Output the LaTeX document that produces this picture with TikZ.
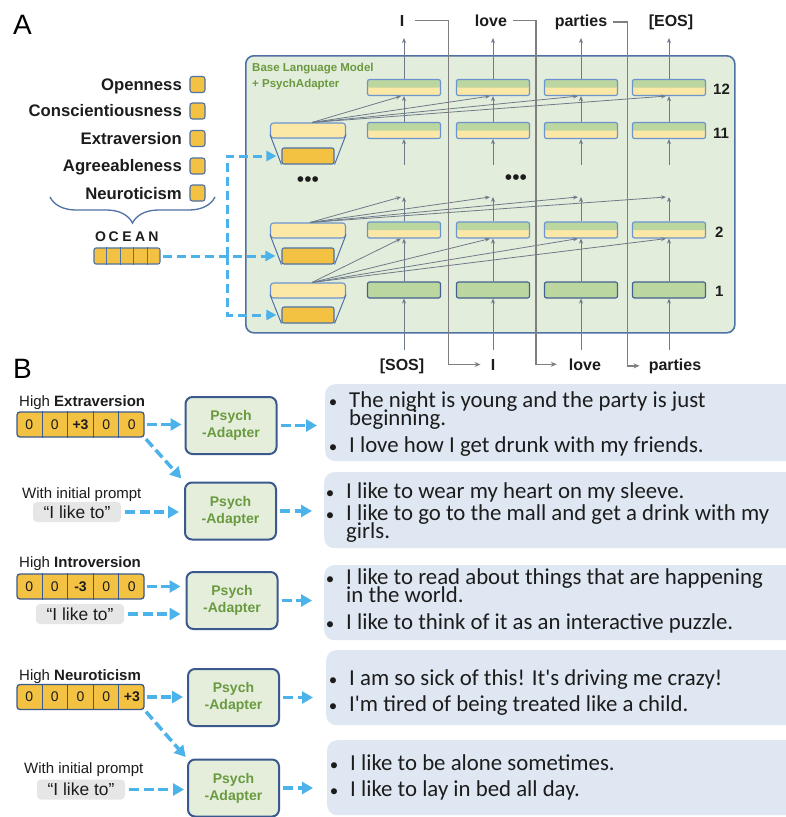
\documentclass[tikz,border=0pt]{standalone}
\usepackage{fontspec}
\setmainfont{Liberation Sans}
\newfontfamily\calfont{Carlito}
\usetikzlibrary{arrows.meta,decorations.pathreplacing,calc}
\definecolor{panelfill}{HTML}{E3EDDB}
\definecolor{panelline}{HTML}{4E71A6}
\definecolor{lgreen}{HTML}{BCD6A0}
\definecolor{lyellow}{HTML}{FBE7A6}
\definecolor{lboxline}{HTML}{6A93CF}
\definecolor{ldark}{HTML}{42618F}
\definecolor{orng}{HTML}{F4C243}
\definecolor{arrgray}{HTML}{6D7A8A}
\definecolor{routegray}{HTML}{7F7F7F}
\definecolor{bluedash}{HTML}{4CB2EA}
\definecolor{psyfill}{HTML}{E4EEDB}
\definecolor{psyline}{HTML}{3A5A8E}
\definecolor{psytext}{HTML}{6A9A40}
\definecolor{txtbox}{HTML}{DFE8F2}
\definecolor{quotebox}{HTML}{E6E6E6}
\definecolor{txtcol}{HTML}{1C1C1C}
\newcommand\bul{\llap{\makebox[32pt][c]{\fontsize{17}{17}\selectfont •}}}
\newcommand\bvector[7]{%
  \node[bvec] (#1) at (80.5,#2) {};
  \foreach \i in {1,...,4}
    \draw[psyline, line width=1pt] ($(#1.north west)!\i/5!(#1.north east)$) -- ($(#1.south west)!\i/5!(#1.south east)$);
  \node[digit] (#1d1) at ($(#1.west)!0.1!(#1.east)$) {#3};
  \node[digit] (#1d2) at ($(#1.west)!0.3!(#1.east)$) {#4};
  \node[digit] (#1d3) at ($(#1.west)!0.5!(#1.east)$) {#5};
  \node[digit] (#1d4) at ($(#1.west)!0.7!(#1.east)$) {#6};
  \node[digit] (#1d5) at ($(#1.west)!0.9!(#1.east)$) {#7};
}
\begin{document}
\begin{tikzpicture}[x=1pt,y=-1pt,
  panel/.style={draw=panelline, line width=1.6pt, fill=panelfill, rounded corners=8pt, inner sep=0pt, anchor=north west},
  layerbox/.style={draw=lboxline, line width=1.2pt, rounded corners=2pt, minimum width=73pt, minimum height=16pt, inner sep=0pt, fill=lyellow,
    path picture={\fill[lgreen] (path picture bounding box.north west) rectangle (path picture bounding box.east);}},
  layerone/.style={draw=ldark, line width=1.2pt, rounded corners=2pt, minimum width=73pt, minimum height=16pt, inner sep=0pt, fill=lgreen},
  adup/.style={draw=lboxline, line width=1.1pt, fill=lyellow, rounded corners=3pt, minimum width=75pt, minimum height=15pt, inner sep=0pt},
  adlo/.style={draw=panelline, line width=1.1pt, fill=orng, rounded corners=2pt, minimum width=52pt, minimum height=16pt, inner sep=0pt},
  trap/.style={draw=panelline, line width=1pt},
  garrow/.style={draw=arrgray, line width=0.8pt, -{Stealth[length=5pt,width=4pt]}},
  route/.style={draw=routegray, line width=1.5pt, -{Stealth[length=6pt,width=5pt]}},
  bdash/.style={draw=bluedash, line width=3pt, dash pattern=on 9pt off 5pt, -{Triangle[length=10pt,width=10pt]}},
  bdashb/.style={draw=bluedash, line width=3.5pt, dash pattern=on 10pt off 4.5pt, -{Triangle[length=11pt,width=12pt]}},
  trait/.style={font=\bfseries\fontsize{16.7}{18}\selectfont, text=txtcol, inner sep=0pt, anchor=base east},
  sq/.style={draw=panelline, line width=1.1pt, fill=orng, rounded corners=2.5pt, minimum width=15pt, minimum height=16pt, inner sep=0pt},
  tok/.style={font=\bfseries\fontsize{16}{18}\selectfont, text=txtcol, inner sep=0pt, anchor=base},
  lnum/.style={font=\bfseries\fontsize{15}{18}\selectfont, text=txtcol, inner sep=0pt, anchor=base west},
  blm/.style={font=\bfseries\fontsize{11.5}{13}\selectfont, text=psytext, inner sep=0pt, anchor=base west},
  dots/.style={font=\fontsize{21}{22}\selectfont, text=txtcol, inner sep=0pt},
  oletter/.style={font=\bfseries\fontsize{14}{16}\selectfont, text=txtcol, inner sep=0pt, anchor=base},
  ovec/.style={draw=panelline, line width=1.1pt, fill=orng, rounded corners=2pt, minimum width=66pt, minimum height=16pt, inner sep=0pt},
  bvec/.style={draw=psyline, line width=1.3pt, fill=orng, rounded corners=3pt, minimum width=127pt, minimum height=25pt, inner sep=0pt},
  digit/.style={font=\fontsize{14}{16}\selectfont, text=txtcol, inner sep=0pt},
  blabel/.style={font=\fontsize{15}{17}\selectfont, text=txtcol, inner sep=0pt, anchor=base west},
  psy/.style={draw=psyline, line width=2pt, fill=psyfill, rounded corners=7pt, minimum width=91pt, minimum height=57pt, inner sep=0pt,
    align=center, font=\bfseries\fontsize{14}{17}\selectfont, text=psytext},
  qbox/.style={fill=quotebox, rounded corners=4pt, minimum width=88pt, minimum height=20pt, inner sep=0pt,
    font=\fontsize{17.4}{19}\selectfont, text=txtcol},
  tbox/.style={fill=txtbox, rounded corners=10pt, inner sep=0pt, anchor=north west, minimum width=480pt},
  tline/.style={font=\calfont\fontsize{22.8}{24}\selectfont, text=txtcol, inner sep=0pt, anchor=base west},
  biglab/.style={font=\fontsize{28}{30}\selectfont, text=black, inner sep=0pt, anchor=base west}
]
\path[fill=white, use as bounding box] (0,0) rectangle (785,817);

% ---------------- Part A ----------------
\node[biglab] (labA) at (13,34) {A};
\node[panel, minimum width=489pt, minimum height=277pt] (panel) at (245,55) {};
\node[blm] (blm1) at (252,71.7) {Base Language Model};
\node[blm] (blm2) at (252,87.3) {+ PsychAdapter};

\foreach \k/\x in {a/404,b/493,c/581,d/669} {
  \node[layerbox] (L12\k) at (\x,87.5) {};
  \node[layerbox] (L11\k) at (\x,130.5) {};
  \node[layerbox] (L2\k) at (\x,230) {};
  \node[layerone] (L1\k) at (\x,290) {};
  \coordinate (bot\k) at (\x,350);
  \coordinate (midup\k) at (\x,197);
  \coordinate (midlo\k) at (\x,165);
  \coordinate (tip\k) at (\x,38);
}
\foreach \k in {a,b,c,d} {
  \draw[garrow] (bot\k) -- (L1\k.south);
  \draw[garrow] (L1\k.north) -- (L2\k.south);
  \draw[garrow] (L2\k.north) -- (midup\k);
  \draw[garrow] (midlo\k) -- (L11\k.south);
  \draw[garrow] (L11\k.north) -- (L12\k.south);
  \draw[garrow] (L12\k.north) -- (tip\k);
}
\node[lnum] (n12) at (713,94.3) {12};
\node[lnum] (n11) at (713,138.3) {11};
\node[lnum] (n2) at (715,237.7) {2};
\node[lnum] (n1) at (715,296.7) {1};

% adapters
\foreach \n/\ya/\yb in {T/130.5/156, M/230.5/256, B/290.5/315} {
  \node[adup] (U\n) at (308,\ya) {};
  \node[adlo] (O\n) at (308,\yb) {};
  \draw[trap] ([yshift=4pt]U\n.south west) -- (O\n.south west);
  \draw[trap] ([yshift=4pt]U\n.south east) -- (O\n.south east);
}
\foreach \k in {a,b,c,d} {
  \draw[garrow] ([xshift=4pt]UT.north) -- ([xshift=-3pt]L12\k.south);
  \draw[garrow] ([xshift=2pt]UM.north) -- ([xshift=-3pt]midup\k);
  \draw[garrow] ([xshift=4pt]UB.north) -- ([xshift=-3pt]L2\k.south);
}
\node[dots] (dotsL) at (308,182) {•••};
\node[dots] (dotsR) at (516,180) {•••};

% tokens
\node[tok] (tokI) at (402,26) {I};
\node[tok] (toklove) at (491,26) {love};
\node[tok] (tokparties) at (581,26) {parties};
\node[tok] (tokeos) at (671,26) {[EOS]};
\node[tok] (botsos) at (402,370) {[SOS]};
\node[tok] (botI) at (493,370) {I};
\node[tok] (botlove) at (585,370) {love};
\node[tok] (botparties) at (675,370) {parties};
\draw[route] ([xshift=11pt]tokI.east) -- ([xshift=44pt]tokI.east) |- ([xshift=-10pt]botI.west);
\draw[route] ([xshift=6pt]toklove.east) -- ([xshift=29pt]toklove.east) |- ([xshift=-12pt]botlove.west);
\draw[route] ([xshift=6pt]tokparties.east) -- ([xshift=20pt]tokparties.east) |- ([xshift=-9pt]botparties.west);

% traits
\node[trait] (tO) at (182,90) {Openness};
\node[trait] (tC) at (182,116.7) {Conscientiousness};
\node[trait] (tE) at (182,144.3) {Extraversion};
\node[trait] (tA) at (182,171.7) {Agreeableness};
\node[trait] (tN) at (182,199) {Neuroticism};
\node[sq] (sO) at (197.5,84.5) {};
\node[sq] (sC) at (197.5,111) {};
\node[sq] (sE) at (197.5,138.5) {};
\node[sq] (sA) at (197.5,166) {};
\node[sq] (sN) at (197.5,193) {};
\coordinate (braceL) at (50,197);
\coordinate (braceR) at (215,197);
\draw[panelline, line width=1.3pt, decorate, decoration={brace, mirror, amplitude=26pt}] (braceL) -- (braceR);
\node[oletter] (lO) at (100.6,241.7) {O};
\node[oletter] (lC) at (113.8,241.7) {C};
\node[oletter] (lE) at (127,241.7) {E};
\node[oletter] (lA) at (140.2,241.7) {A};
\node[oletter] (lN) at (153.4,241.7) {N};
\node[ovec] (ocean) at (127,256) {};
\foreach \i in {1,...,4}
  \draw[panelline, line width=1pt] ($(ocean.north west)!\i/5!(ocean.north east)$) -- ($(ocean.south west)!\i/5!(ocean.south east)$);
\coordinate (J) at (227,256);
\draw[bdash, shorten <=2pt, shorten >=6pt] (ocean.east) -- (OM.west);
\draw[bdash, shorten >=5pt] (J) |- (OT.west);
\draw[bdash, shorten >=5pt] (J) |- (OB.west);

% ---------------- Part B ----------------
\node[biglab] (labB) at (13,378) {B};

\node[blabel] (h1) at (19,406.7) {High \textbf{Extraversion}};
\bvector{V1}{424.5}{0}{0}{\textbf{+3}}{0}{0}
\node[blabel] (w1) at (22,498.3) {With initial prompt};
\node[qbox] (Q1) at (77,512) {“I like to”};

\node[blabel] (h2) at (19,567.7) {High \textbf{Introversion}};
\bvector{V2}{586.5}{0}{0}{\textbf{-3}}{0}{0}
\node[qbox] (Q2) at (80,614) {“I like to”};

\node[blabel] (h3) at (19,680) {High \textbf{Neuroticism}};
\bvector{V3}{697}{0}{0}{0}{0}{\textbf{+3}}
\node[blabel] (w2) at (24,773.3) {With initial prompt};
\node[qbox] (Q3) at (81,789.5) {“I like to”};

\node[psy] (P1) at (231,425.5) {Psych\\-Adapter};
\node[psy] (P2) at (230.5,511) {Psych\\-Adapter};
\node[psy] (P3) at (232,600.5) {Psych\\-Adapter};
\node[psy] (P4) at (233.5,697.5) {Psych\\-Adapter};
\node[psy] (P5) at (233.5,788) {Psych\\-Adapter};

\node[tbox, minimum height=77pt] (T1) at (325,384) {};
\node[tbox, minimum height=76pt] (T2) at (324,472) {};
\node[tbox, minimum height=75pt] (T3) at (324,565) {};
\node[tbox, minimum height=75pt] (T4) at (326,650) {};
\node[tbox, minimum height=75pt] (T5) at (327,740) {};

\node[tline] (T1a) at (349,407.3) {\bul The night is young and the party is just};
\node[tline] (T1b) at (349,425) {beginning.};
\node[tline] (T1c) at (349,452.7) {\bul I love how I get drunk with my friends.};
\node[tline] (T2a) at (346,498) {\bul I like to wear my heart on my sleeve.};
\node[tline] (T2b) at (346,520.7) {\bul I like to go to the mall and get a drink with my};
\node[tline] (T2c) at (346,538) {girls.};
\node[tline] (T3a) at (346,584) {\bul I like to read about things that are happening};
\node[tline] (T3b) at (346,602.7) {in the world.};
\node[tline] (T3c) at (346,629.3) {\bul I like to think of it as an interactive puzzle.};
\node[tline] (T4a) at (349,685) {\bul I am so sick of this! It's driving me crazy!};
\node[tline] (T4b) at (349,711.7) {\bul I'm tired of being treated like a child.};
\node[tline] (T5a) at (350,770) {\bul I like to be alone sometimes.};
\node[tline] (T5b) at (350,796.7) {\bul I like to lay in bed all day.};

% arrows in B
\draw[bdashb, shorten <=2pt, shorten >=3pt] (V1.east) -- (V1.east -| P1.west);
\draw[bdashb, shorten <=2pt, shorten >=4pt] (V1.south east) -- (P2.north west);
\draw[bdashb, shorten <=4pt, shorten >=5pt] (Q1.east) -- (Q1.east -| P2.west);
\draw[bdashb, shorten <=2pt, shorten >=5pt] (V2.east) -- (V2.east -| P3.west);
\draw[bdashb, shorten <=4pt, shorten >=5pt] (Q2.east) -- (Q2.east -| P3.west);
\draw[bdashb, shorten <=2pt, shorten >=4pt] (V3.east) -- (V3.east -| P4.west);
\draw[bdashb, shorten <=2pt, shorten >=2pt] (V3.south east) -- (P5.north west);
\draw[bdashb, shorten <=4pt, shorten >=3pt] (Q3.east) -- (Q3.east -| P5.west);
\draw[bdashb, shorten <=3pt, shorten >=8pt] (P1.east) -- (P1.east -| T1.west);
\draw[bdashb, shorten <=3pt, shorten >=12pt] (P2.east) -- (P2.east -| T2.west);
\draw[bdashb, shorten <=3pt, shorten >=12pt] (P3.east) -- (P3.east -| T3.west);
\draw[bdashb, shorten <=3pt, shorten >=13pt] (P4.east) -- (P4.east -| T4.west);
\draw[bdashb, shorten <=3pt, shorten >=14pt] (P5.east) -- (P5.east -| T5.west);
\end{tikzpicture}
\end{document}
